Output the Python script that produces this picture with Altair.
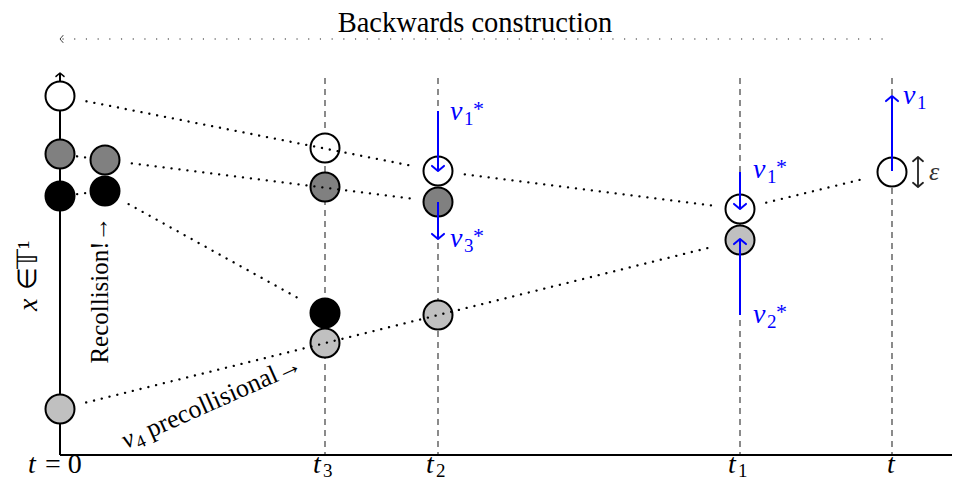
import math
import altair as alt
import pandas as pd

# ---------------- data (diagram units: time to the right, position downward) -------------
tick_pos = [325, 438, 740, 892]          # t3, t2, t1, t
tick_sub = ["3", "2", "1", ""]
t_origin = 60
axis_bottom = 455
axis_top = 73
axis_right = 960

# particle snapshots (circles)
circle_x = [60, 60, 60, 105, 105, 60, 325, 325, 325, 325, 438, 438, 438, 740, 740, 892]
circle_y = [96, 154, 196, 160, 191, 409, 148, 187, 313, 343, 171, 202, 315, 209, 240, 172]
circle_fill = ["white", "#808080", "black", "#808080", "black", "#c0c0c0",
               "white", "#808080", "black", "#c0c0c0",
               "white", "#808080", "#c0c0c0", "white", "#c0c0c0", "white"]

# free-flight trajectories (dotted), start -> end
traj_x1 = [60, 438, 740, 60, 105, 60, 105, 60]
traj_y1 = [96, 171, 209, 154, 160, 196, 191, 409]
traj_x2 = [438, 740, 892, 105, 438, 105, 325, 740]
traj_y2 = [171, 209, 172, 160, 202, 191, 313, 240]

# velocity arrows (blue)
vel_x = [438, 438, 740, 740, 892]
vel_from = [111, 202, 172, 315, 171]
vel_to = [171, 239, 209, 239, 96]
vel_sub = ["1", "3", "1", "2", "1"]
vel_star = [True, True, True, True, False]
vel_lab_x = [450, 450, 753, 753, 903]
vel_lab_y = [120, 247, 178, 323, 104]

# epsilon marker
eps_x = 918
eps_top = 157
eps_bot = 187

title_text = "Backwards construction"
BLUE = "#0000ff"
FONT = "Liberation Serif"

# ---------------- helpers -----------------------------------------------------------------
XS = alt.Scale(domain=[8, 952], zero=False, nice=False)
YS = alt.Scale(domain=[8, 480], zero=False, nice=False, reverse=True)


def X(f="x"):
    return alt.X(f + ":Q", scale=XS, axis=None)


def Y(f="y"):
    return alt.Y(f + ":Q", scale=YS, axis=None)


CHEVRON = "M -1 0.85 Q -0.35 0.3 0 0 Q 0.35 0.3 1 0.85"


def rules(df, **kw):
    return alt.Chart(df).mark_rule(**kw).encode(x=X(), y=Y(), x2="x2:Q", y2="y2:Q")


def heads(df, half, color, width):
    return alt.Chart(df).mark_point(shape=CHEVRON, filled=False, opacity=1, size=(2 * half) ** 2,
                                    stroke=color, strokeWidth=width, strokeCap="round",
                                    strokeJoin="round").encode(
        x=X(), y=Y(), angle=alt.Angle("angle:Q", scale=None))


def texts(rows, italic=False, align="left"):
    df = pd.DataFrame(rows, columns=["x", "y", "text", "size", "color", "angle"])
    return alt.Chart(df).mark_text(font=FONT, fontStyle="italic" if italic else "normal",
                                   align=align, baseline="alphabetic").encode(
        x=X(), y=Y(), text="text:N", size=alt.Size("size:Q", scale=None),
        color=alt.Color("color:N", scale=None), angle=alt.Angle("angle:Q", scale=None))


layers = []

# dashed time lines
dash_df = pd.DataFrame({"x": tick_pos, "x2": tick_pos, "y": [78] * 4, "y2": [axis_bottom] * 4})
layers.append(rules(dash_df, color="#4d4d4d", strokeWidth=1.3, strokeDash=[6, 5]))

# axes
ax_df = pd.DataFrame({"x": [t_origin, t_origin], "x2": [t_origin, axis_right],
                      "y": [axis_bottom, axis_bottom], "y2": [axis_top + 1, axis_bottom]})
layers.append(rules(ax_df, color="black", strokeWidth=2))
layers.append(heads(pd.DataFrame({"x": [t_origin], "y": [axis_top], "angle": [0]}), 4, "black", 1.5))

# backwards-construction dotted arrow
bc_df = pd.DataFrame({"x": [63], "x2": [890], "y": [39], "y2": [39]})
layers.append(rules(bc_df, color="#555555", strokeWidth=1.3, strokeDash=[0.1, 11.6], strokeCap="round"))
layers.append(heads(pd.DataFrame({"x": [60], "y": [39], "angle": [270]}), 3.5, "#333333", 1))

# circles
circ_df = pd.DataFrame({"x": circle_x, "y": circle_y, "fill": circle_fill})
layers.append(alt.Chart(circ_df).mark_point(shape="circle", filled=True, opacity=1, size=29 ** 2,
                                            stroke="black", strokeWidth=2).encode(
    x=X(), y=Y(), fill=alt.Fill("fill:N", scale=None)))

# dotted trajectories, trimmed at circles
rows = []
for x1, y1, x2, y2 in zip(traj_x1, traj_y1, traj_x2, traj_y2):
    L = math.hypot(x2 - x1, y2 - y1)
    trim = min(27, 0.38 * L)
    ux, uy = (x2 - x1) / L, (y2 - y1) / L
    rows.append({"x": x1 + ux * trim, "y": y1 + uy * trim, "x2": x2 - ux * trim, "y2": y2 - uy * trim})
layers.append(rules(pd.DataFrame(rows), color="black", strokeWidth=2.3, strokeDash=[0.1, 7.9],
                    strokeCap="round"))

# velocity arrows
vel_df = pd.DataFrame({"x": vel_x, "x2": vel_x, "y": vel_from, "y2": vel_to})
layers.append(rules(vel_df, color=BLUE, strokeWidth=2))
vh = pd.DataFrame({"x": vel_x, "y": vel_to,
                   "angle": [0 if b < a else 180 for a, b in zip(vel_from, vel_to)]})
layers.append(heads(vh, 6, BLUE, 2))

# epsilon double arrow
layers.append(rules(pd.DataFrame({"x": [eps_x], "x2": [eps_x], "y": [eps_top + 1], "y2": [eps_bot - 1]}),
                    color="#222222", strokeWidth=1.8))
layers.append(heads(pd.DataFrame({"x": [eps_x, eps_x], "y": [eps_top, eps_bot], "angle": [0, 180]}),
                    5, "#222222", 1.8))

# ---------------- texts ---------------------------------------------------------------------
ital = []
upr = []
center_upr = []

# title
center_upr.append([475, 32, title_text, 28.5, "black", 0])

# time labels (kept inside the drawing area)
ital.append([28, 473, "t", 28, "black", 0])
upr.append([45, 473, "= 0", 28, "black", 0])
for p, s in zip(tick_pos, tick_sub):
    if s:
        ital.append([p - 12, 473, "t", 28, "black", 0])
        upr.append([p - 2, 477, s, 19, "black", 0])
    else:
        ital.append([p - 5, 473, "t", 28, "black", 0])

# velocity labels
for lx, ly, s, st in zip(vel_lab_x, vel_lab_y, vel_sub, vel_star):
    ital.append([lx, ly, "v", 28, BLUE, 0])
    upr.append([lx + 14, ly + 5, s, 19, BLUE, 0])
    if st:
        upr.append([lx + 23, ly - 4, "*", 22, BLUE, 0])

# epsilon
ital.append([929, 180, "ε", 26, "#333333", 0])

# vertical axis label (rotated)
ital.append([37, 311, "x", 28, "black", 270])
upr.append([36, 290, "∈", 26, "black", 270])
upr.append([37, 269, "𝕋¹", 28, "black", 270])

# recollision
center_upr.append([108, 290, "Recollision!→", 25, "black", 270])

# v4 precollisional (rotated along baseline)
ang = 336
rad = math.radians(360 - ang)
d = (math.cos(rad), -math.sin(rad))
n = (math.sin(rad), math.cos(rad))
p0 = (126, 449)
ital.append([p0[0], p0[1], "v", 26, "black", ang])
upr.append([p0[0] + 12 * d[0] + 5 * n[0], p0[1] + 12 * d[1] + 5 * n[1], "4", 18, "black", ang])
upr.append([p0[0] + 27 * d[0], p0[1] + 27 * d[1], "precollisional→", 26, "black", ang])

layers.append(texts(ital, italic=True))
layers.append(texts(upr))
layers.append(texts(center_upr, align="center"))

chart = alt.layer(*layers).properties(
    width=944, height=472, autosize=alt.AutoSizeParams(type="none"), padding=0,
    background="white",
).configure_view(stroke=None)

chart.save("out.html", embed_options={"renderer": "svg", "actions": False})
